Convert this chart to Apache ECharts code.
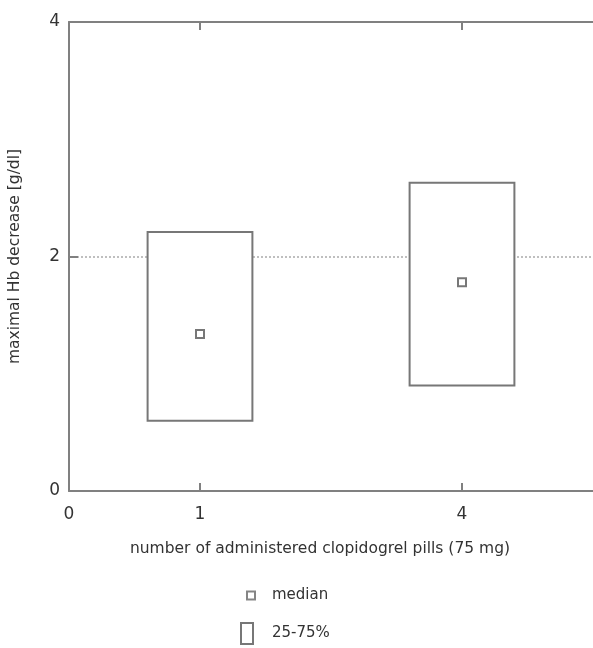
<!DOCTYPE html>
<html>
<head>
<meta charset="utf-8">
<script src="https://cdn.jsdelivr.net/npm/echarts@6/dist/echarts.min.js"></script>
<style>
html,body{margin:0;padding:0;background:#fff;}
#chart{width:593px;height:648px;}
</style>
</head>
<body>
<div id="chart"></div>
<script>
// ---- data ----
const tickPositions = [0, 1, 3];
const tickLabels = ['0', '1', '4'];
const groupPositions = [1, 3];          // x positions of "1 pill" and "4 pills"
const q1Values = [0.60, 0.90];          // 25th percentile
const q3Values = [2.21, 2.63];          // 75th percentile
const medianValues = [1.34, 1.78];
const yTicks = [0, 2, 4];

// ---- style constants ----
const BOX_HALF = 0.4;
const AXIS_COLOR = '#808080';
const TEXT_COLOR = '#333';
const FONT = 'DejaVu Sans';

const boxData = groupPositions.map((x, i) => [x, q1Values[i], q3Values[i]]);
const medianData = groupPositions.map((x, i) => [x, medianValues[i]]);

const chart = echarts.init(document.getElementById('chart'), null, {renderer: 'canvas'});
chart.setOption({
  animation: false,
  textStyle: {fontFamily: FONT, color: TEXT_COLOR},
  grid: {left: 69, right: 0, top: 22, bottom: 157, containLabel: false, outerBoundsMode: 'none'},
  xAxis: [{
    type: 'value', min: 0, max: 4, interval: 1,
    position: 'bottom',
    axisLine: {show: true, lineStyle: {color: AXIS_COLOR, width: 2}},
    axisTick: {show: true, inside: true, length: 8, customValues: [1, 3], lineStyle: {color: AXIS_COLOR, width: 2}},
    axisLabel: {
      customValues: tickPositions,
      formatter: v => { const i = tickPositions.indexOf(v); return i >= 0 ? tickLabels[i] : ''; },
      margin: 15, fontSize: 17, color: TEXT_COLOR, fontFamily: FONT
    },
    splitLine: {show: false},
    name: 'number of administered clopidogrel pills (75 mg)',
    nameLocation: 'middle', nameGap: 50,
    nameTextStyle: {fontSize: 15.5, color: TEXT_COLOR, fontFamily: FONT, padding: [0, 22, 0, 0]}
  }, {
    type: 'value', min: 0, max: 4, interval: 1,
    position: 'top',
    axisLine: {show: true, lineStyle: {color: AXIS_COLOR, width: 2}},
    axisTick: {show: true, inside: true, length: 8, customValues: [1, 3], lineStyle: {color: AXIS_COLOR, width: 2}},
    axisLabel: {show: false},
    splitLine: {show: false}
  }],
  yAxis: {
    type: 'value', min: 0, max: 4, interval: 2,
    axisLine: {show: true, lineStyle: {color: AXIS_COLOR, width: 2}},
    axisTick: {show: true, inside: true, length: 9, lineStyle: {color: AXIS_COLOR, width: 2}},
    axisLabel: {
      formatter: v => yTicks.includes(v) ? String(v) : '',
      margin: 9, fontSize: 17, color: TEXT_COLOR, fontFamily: FONT
    },
    splitLine: {show: true, lineStyle: {color: '#aaa', type: [2, 2], width: 1.5}},
    name: 'maximal Hb decrease [g/dl]',
    nameLocation: 'middle', nameGap: 46,
    nameTextStyle: {fontSize: 15.5, color: TEXT_COLOR, fontFamily: FONT}
  },
  legend: [{
    data: [{name: 'median', icon: 'rect', itemStyle: {color: '#fff', borderColor: '#666', borderWidth: 2}}],
    left: 246, top: 588, padding: 0, itemWidth: 8, itemHeight: 8,
    textStyle: {fontSize: 15, color: TEXT_COLOR, fontFamily: FONT, padding: [0, 0, 0, 12]},
    selectedMode: false
  }, {
    data: [{name: '25-75%', icon: 'rect', itemStyle: {color: '#fff', borderColor: '#777', borderWidth: 2}}],
    left: 240, top: 622, padding: 0, itemWidth: 12, itemHeight: 21,
    textStyle: {fontSize: 15, color: TEXT_COLOR, fontFamily: FONT, padding: [0, 0, 0, 14]},
    selectedMode: false
  }],
  series: [{
    name: '25-75%',
    type: 'custom',
    xAxisIndex: 0,
    data: boxData,
    encode: {x: 0, y: [1, 2]},
    itemStyle: {color: '#fff', borderColor: '#777', borderWidth: 2},
    renderItem: (params, api) => {
      const x = api.value(0), lo = api.value(1), hi = api.value(2);
      const p1 = api.coord([x - BOX_HALF, hi]);
      const p2 = api.coord([x + BOX_HALF, lo]);
      return {
        type: 'rect',
        shape: {x: p1[0], y: p1[1], width: p2[0] - p1[0], height: p2[1] - p1[1]},
        style: {fill: '#fff', stroke: '#777', lineWidth: 2}
      };
    },
    z: 3
  }, {
    name: 'median',
    type: 'scatter',
    xAxisIndex: 0,
    data: medianData,
    symbol: 'rect',
    symbolSize: 8,
    itemStyle: {color: '#fff', borderColor: '#555', borderWidth: 2},
    z: 4
  }]
});
</script>
</body>
</html>
